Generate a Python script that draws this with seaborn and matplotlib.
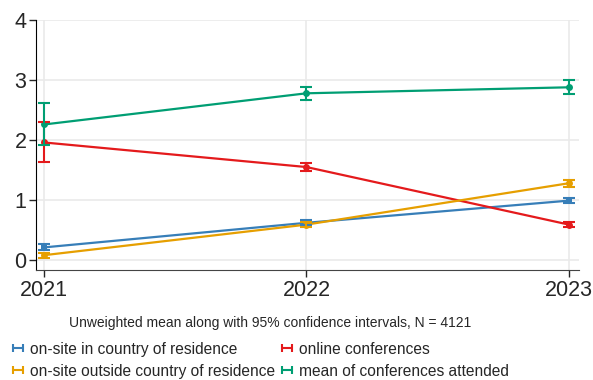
import pandas as pd
import matplotlib
matplotlib.use("Agg")
import matplotlib.pyplot as plt
import seaborn as sns
from matplotlib.lines import Line2D

# values
years = [2021, 2022, 2023]
series = ["on-site in country of residence", "online conferences",
          "on-site outside country of residence", "mean of conferences attended"]
means = {
    "on-site in country of residence": [0.21, 0.62, 0.99],
    "online conferences": [1.96, 1.55, 0.59],
    "on-site outside country of residence": [0.08, 0.59, 1.28],
    "mean of conferences attended": [2.26, 2.78, 2.88],
}
lower = {
    "on-site in country of residence": [0.16, 0.58, 0.95],
    "online conferences": [1.63, 1.49, 0.55],
    "on-site outside country of residence": [0.04, 0.55, 1.22],
    "mean of conferences attended": [1.91, 2.67, 2.76],
}
upper = {
    "on-site in country of residence": [0.26, 0.66, 1.03],
    "online conferences": [2.30, 1.61, 0.63],
    "on-site outside country of residence": [0.12, 0.63, 1.34],
    "mean of conferences attended": [2.62, 2.89, 3.00],
}
colors = ["#377eb8", "#e41a1c", "#e69f00", "#009e73"]
markers = ["s", "o", "o", "o"]

rows = []
for s in series:
    for i, y in enumerate(years):
        rows.append({"year": y, "series": s, "mean": means[s][i],
                     "lo": lower[s][i], "hi": upper[s][i]})
df = pd.DataFrame(rows)

sns.set_style("white")
plt.rcParams["font.family"] = ["Liberation Sans", "DejaVu Sans"]

fig, ax = plt.subplots(figsize=(5.93, 3.80), dpi=100)
fig.subplots_adjust(left=0.061, right=0.977, top=0.947, bottom=0.289)

palette = dict(zip(series, colors))
sns.lineplot(data=df, x="year", y="mean", hue="series", style="series",
             markers=dict(zip(series, markers)), dashes=False, palette=palette,
             markersize=5, markeredgewidth=0, linewidth=1.6, ax=ax, legend=False,
             errorbar=None, zorder=3)
for s, c in zip(series, colors):
    d = df[df.series == s]
    ax.errorbar(d["year"], d["mean"],
                yerr=[d["mean"] - d["lo"], d["hi"] - d["mean"]],
                fmt="none", ecolor=c, elinewidth=1.5, capsize=4, capthick=1.5, zorder=3)

ax.set_xlim(2020.97, 2023.04)
ax.set_ylim(-0.17, 4.0)
ax.set_xticks(years)
ax.set_yticks([0, 1, 2, 3, 4])
ax.grid(True, color="#eaeaea", linewidth=1.2)
ax.set_axisbelow(True)
for sp in ["top", "right"]:
    ax.spines[sp].set_visible(False)
ax.spines["left"].set_color("black")
ax.spines["bottom"].set_color("#444444")
ax.tick_params(axis="both", labelsize=15.5, length=5, width=1, direction="out",
               left=True, bottom=True, pad=2)
ax.set_xlabel("Unweighted mean along with 95% confidence intervals, N = 4121",
              fontsize=10)
ax.xaxis.set_label_coords(0.431, -0.185)
ax.set_ylabel("")

# legend filled row by row as in the reference
order = [0, 2, 1, 3]
handles = [Line2D([0, 1], [0, 0], color=colors[i], marker="|", markersize=5.5,
                  markeredgewidth=1.5, linewidth=1.5) for i in order]
labels = [series[i] for i in order]
ax.legend(handles, labels, loc="upper left", bbox_to_anchor=(-0.062, -0.262),
          ncol=2, frameon=False, fontsize=11.2, numpoints=2, handlelength=1.25,
          handletextpad=0.15, columnspacing=0.1, labelspacing=0.45,
          borderaxespad=0)

plt.savefig("out.png", dpi=100)
